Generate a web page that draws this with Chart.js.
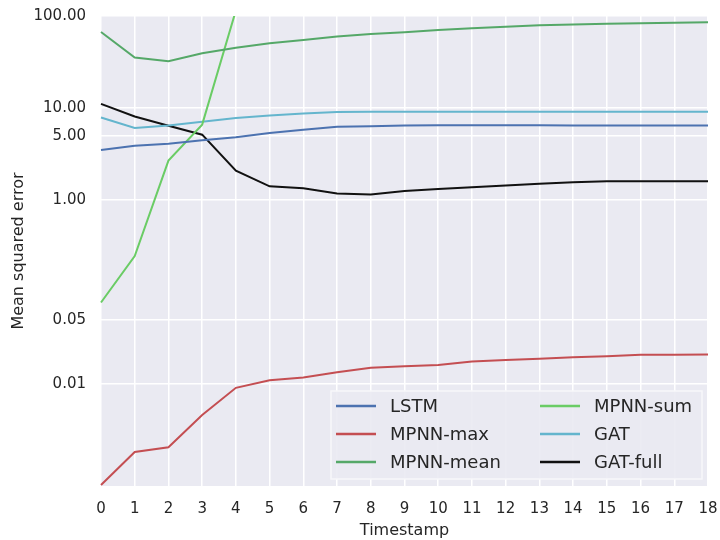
<!DOCTYPE html>
<html>
<head>
<meta charset="utf-8">
<script src="https://cdn.jsdelivr.net/npm/chart.js@4/dist/chart.umd.min.js"></script>
<style>
  html, body { margin: 0; padding: 0; background: #ffffff; }
  #wrap { width: 720px; height: 540px; }
</style>
</head>
<body>
<div id="wrap"><canvas id="mseChart" width="720" height="540"></canvas></div>
<script>
// timestamps on the x axis
const timestamps = ['0', '1', '2', '3', '4', '5', '6', '7', '8', '9', '10', '11', '12', '13', '14', '15', '16', '17', '18'];

// mean squared error per model
const lstm = [3.5, 3.9, 4.1, 4.45, 4.8, 5.35, 5.8, 6.25, 6.35, 6.45, 6.5, 6.5, 6.5, 6.48, 6.47, 6.46, 6.45, 6.45, 6.45];
const mpnnMax = [0.0008, 0.00183, 0.00206, 0.0046, 0.0091, 0.011, 0.0118, 0.0134, 0.015, 0.0156, 0.0161, 0.0176, 0.0183, 0.0188, 0.0195, 0.0201, 0.0208, 0.0208, 0.021];
const mpnnMean = [67, 35.3, 32.3, 39.4, 45.3, 50.6, 55, 59.7, 63.8, 66.5, 70.5, 73.5, 76.6, 79.2, 81, 82.3, 83.5, 84.6, 85.4];
// goes off the top of the plot after timestamp 4
const mpnnSum = [0.077, 0.246, 2.68, 6.6, 115, null, null, null, null, null, null, null, null, null, null, null, null, null, null];
const gat = [7.9, 6.07, 6.47, 7.1, 7.8, 8.3, 8.73, 9.04, 9.1, 9.1, 9.1, 9.1, 9.1, 9.1, 9.1, 9.1, 9.1, 9.1, 9.1];
const gatFull = [11.1, 8.1, 6.42, 5.13, 2.09, 1.41, 1.34, 1.175, 1.15, 1.25, 1.32, 1.38, 1.44, 1.5, 1.56, 1.6, 1.6, 1.6, 1.6];

// y axis tick labels
const yTicks = [0.01, 0.05, 1, 5, 10, 100];

const FONT = 'DejaVu Sans';
const TEXT = '#262626';

// seaborn style grey background behind the plot
const plotBackground = {
  id: 'plotBackground',
  beforeDraw(chart) {
    const { ctx, chartArea: a } = chart;
    ctx.save();
    ctx.fillStyle = '#eaeaf2';
    ctx.fillRect(a.left, a.top, a.right - a.left, a.bottom - a.top);
    ctx.restore();
  }
};

// legend drawn inside the plot, lower right, two columns
const innerLegend = {
  id: 'innerLegend',
  afterDraw(chart) {
    const { ctx } = chart;
    const box = { x: 331, y: 391, w: 371, h: 88 };
    ctx.save();
    ctx.fillStyle = 'rgba(234,234,242,0.9)';
    ctx.fillRect(box.x, box.y, box.w, box.h);
    ctx.strokeStyle = '#f7f7fa';
    ctx.lineWidth = 1.5;
    ctx.strokeRect(box.x, box.y, box.w, box.h);

    const colX = [336, 540];
    const rowY = [406, 434, 462];
    ctx.font = '18px "' + FONT + '"';
    ctx.textBaseline = 'middle';
    ctx.fillStyle = TEXT;
    chart.data.datasets.forEach((ds, i) => {
      const col = Math.floor(i / 3);
      const row = i % 3;
      const x = colX[col];
      const y = rowY[row];
      ctx.strokeStyle = ds.borderColor;
      ctx.lineWidth = 2.5;
      ctx.beginPath();
      ctx.moveTo(x, y);
      ctx.lineTo(x + 40, y);
      ctx.stroke();
      ctx.fillText(ds.label, x + 54, y + 1);
    });
    ctx.restore();
  }
};

const makeSet = (label, data, color) => ({
  label: label,
  data: data,
  borderColor: color,
  backgroundColor: color,
  borderWidth: 2,
  pointRadius: 0,
  tension: 0,
  fill: false,
});

// drop the extra room Chart.js keeps for the end tick labels
const noScalePadding = (scale) => {
  scale.paddingTop = 0;
  scale.paddingBottom = 0;
  scale.paddingLeft = 0;
  scale.paddingRight = 0;
};

const renderChart = () => {
  const ctx = document.getElementById('mseChart').getContext('2d');
  new Chart(ctx, {
    type: 'line',
    data: {
      labels: timestamps,
      datasets: [
        makeSet('LSTM', lstm, '#4c72b0'),
        makeSet('MPNN-max', mpnnMax, '#c44e52'),
        makeSet('MPNN-mean', mpnnMean, '#55a868'),
        makeSet('MPNN-sum', mpnnSum, '#6acc65'),
        makeSet('GAT', gat, '#64b5cd'),
        makeSet('GAT-full', gatFull, '#111111'),
      ],
    },
    options: {
      responsive: false,
      devicePixelRatio: 1,
      animation: false,
      layout: { padding: { left: 0, right: 12, top: 16, bottom: 0 } },
      plugins: {
        legend: { display: false },
        tooltip: { enabled: false },
      },
      scales: {
        x: {
          type: 'category',
          offset: false,
          border: { display: false },
          grid: { color: '#ffffff', lineWidth: 1.5, drawTicks: false },
          ticks: {
            color: TEXT,
            font: { family: FONT, size: 15 },
            padding: 14,
            maxRotation: 0,
            autoSkip: false,
          },
          title: {
            display: true,
            text: 'Timestamp',
            color: TEXT,
            font: { family: FONT, size: 16 },
            padding: { top: 0, bottom: 0 },
          },
          afterFit: (scale) => {
            scale.height = 54;
            noScalePadding(scale);
          },
        },
        y: {
          type: 'logarithmic',
          min: 0.00078,
          max: 100,
          border: { display: false },
          grid: { color: '#ffffff', lineWidth: 1.5, drawTicks: false },
          ticks: {
            color: TEXT,
            font: { family: FONT, size: 15 },
            padding: 15,
            callback: (v) => Number(v).toFixed(2),
          },
          afterBuildTicks: (scale) => {
            scale.ticks = yTicks.map((v) => ({ value: v }));
          },
          title: {
            display: true,
            text: 'Mean squared error',
            color: TEXT,
            font: { family: FONT, size: 16 },
            padding: { top: 9, bottom: 0 },
          },
          afterFit: (scale) => {
            scale.width = 101;
            noScalePadding(scale);
          },
        },
      },
    },
    plugins: [plotBackground, innerLegend],
  });
};

renderChart();
</script>
</body>
</html>
